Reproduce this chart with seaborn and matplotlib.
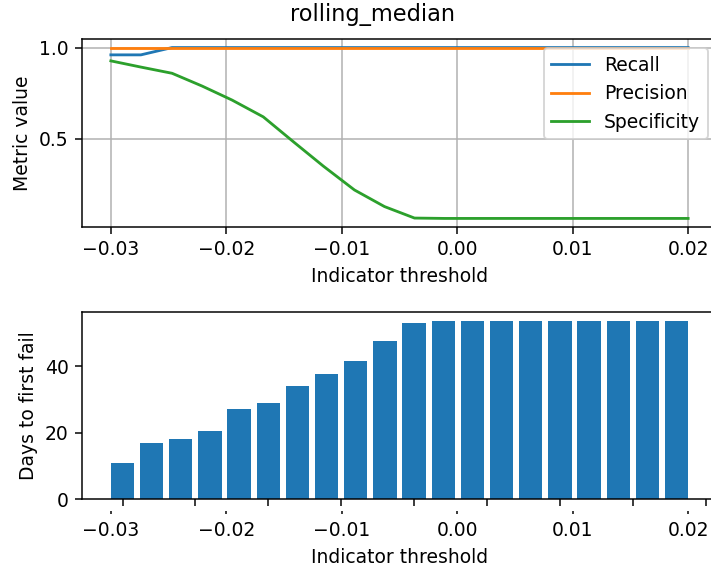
import numpy as np
import pandas as pd
import matplotlib
matplotlib.use("Agg")
import matplotlib.pyplot as plt
from matplotlib.ticker import MultipleLocator
import seaborn as sns

# Indicator thresholds evaluated
thresholds = [-0.0300, -0.0274, -0.0247, -0.0221, -0.0195, -0.0168, -0.0142,
              -0.0116, -0.0089, -0.0063, -0.0037, -0.0011, 0.0016, 0.0042,
              0.0068, 0.0095, 0.0121, 0.0147, 0.0174, 0.0200]

# Classification metrics per threshold
recall = [0.96, 0.96, 1.0, 1.0, 1.0, 1.0, 1.0, 1.0, 1.0, 1.0,
          1.0, 1.0, 1.0, 1.0, 1.0, 1.0, 1.0, 1.0, 1.0, 1.0]
precision = [1.0] * 20
specificity = [0.927, 0.893, 0.859, 0.789, 0.712, 0.620, 0.484, 0.350, 0.219, 0.128,
               0.065, 0.063, 0.063, 0.063, 0.063, 0.063, 0.063, 0.063, 0.063, 0.063]

# Mean days until first failure per threshold
days_to_fail = [11.0, 17.0, 18.0, 20.5, 27.2, 29.0, 34.0, 37.6, 41.5, 47.6,
                53.0, 53.6, 53.6, 53.6, 53.6, 53.6, 53.6, 53.6, 53.6, 53.6]

metric_names = ["Recall", "Precision", "Specificity"]
metric_values = [recall, precision, specificity]

W, H, DPI = 711, 570, 135
fig = plt.figure(figsize=(W / DPI, H / DPI), dpi=DPI)

def box(left, top, right, bottom):
    return [left / W, (H - bottom) / H, (right - left) / W, (bottom - top) / H]

ax1 = fig.add_axes(box(82, 39, 717, 227))
ax2 = fig.add_axes(box(82, 312, 717, 499.3))

# --- metrics panel ---
metrics = pd.DataFrame({
    "threshold": np.tile(thresholds, len(metric_names)),
    "value": np.concatenate(metric_values),
    "metric": np.repeat(metric_names, len(thresholds)),
})
palette = dict(zip(metric_names, ["#1f77b4", "#ff7f0e", "#2ca02c"]))
sns.lineplot(data=metrics, x="threshold", y="value", hue="metric",
             hue_order=metric_names, palette=palette, linewidth=1.5, ax=ax1)
ax1.set_xlim(-0.0325, 0.0225)
ax1.set_ylim(0.016, 1.047)
ax1.set_yticks([0.5, 1.0])
ax1.set_xticks([-0.03, -0.02, -0.01, 0.0, 0.01, 0.02])
ax1.grid(True, color="#b0b0b0", linewidth=0.8)
ax1.set_axisbelow(True)
ax1.set_xlabel("Indicator threshold")
ax1.set_ylabel("Metric value")
ax1.legend(loc="upper right", title=None)

# --- days to failure panel ---
bar_labels = [f"{t:.4f}" for t in thresholds]
sns.barplot(x=bar_labels, y=days_to_fail, color="#1f77b4", saturation=1,
            width=0.8, ax=ax2)
ax2.set_xlim(-1.39, 20.39)
ax2.set_ylim(0, 56.3)
ax2.set_yticks([0, 20, 40])
ax2.xaxis.set_major_locator(MultipleLocator(2.5))
ax2.tick_params(axis="x", labelbottom=False)
ax2.set_xlabel("")
ax2.set_ylabel("Days to first fail")

# threshold scale shown under the bars
ax3 = ax2.twiny()
ax3.set_xlim(ax1.get_xlim())
ax3.set_xticks([-0.03, -0.02, -0.01, 0.0, 0.01, 0.02])
ax3.xaxis.set_ticks_position("bottom")
ax3.xaxis.set_label_position("bottom")
ax3.spines["bottom"].set_position(("outward", 6.4))
for s in ax3.spines.values():
    s.set_visible(False)
ax3.tick_params(axis="x", length=1.8, pad=3.5)
ax3.set_xlabel("Indicator threshold")

fig.text(372 / W, 1 - 15 / H, "rolling_median", ha="center", va="center",
         fontsize=12)

fig.savefig("out.png", dpi=DPI)
